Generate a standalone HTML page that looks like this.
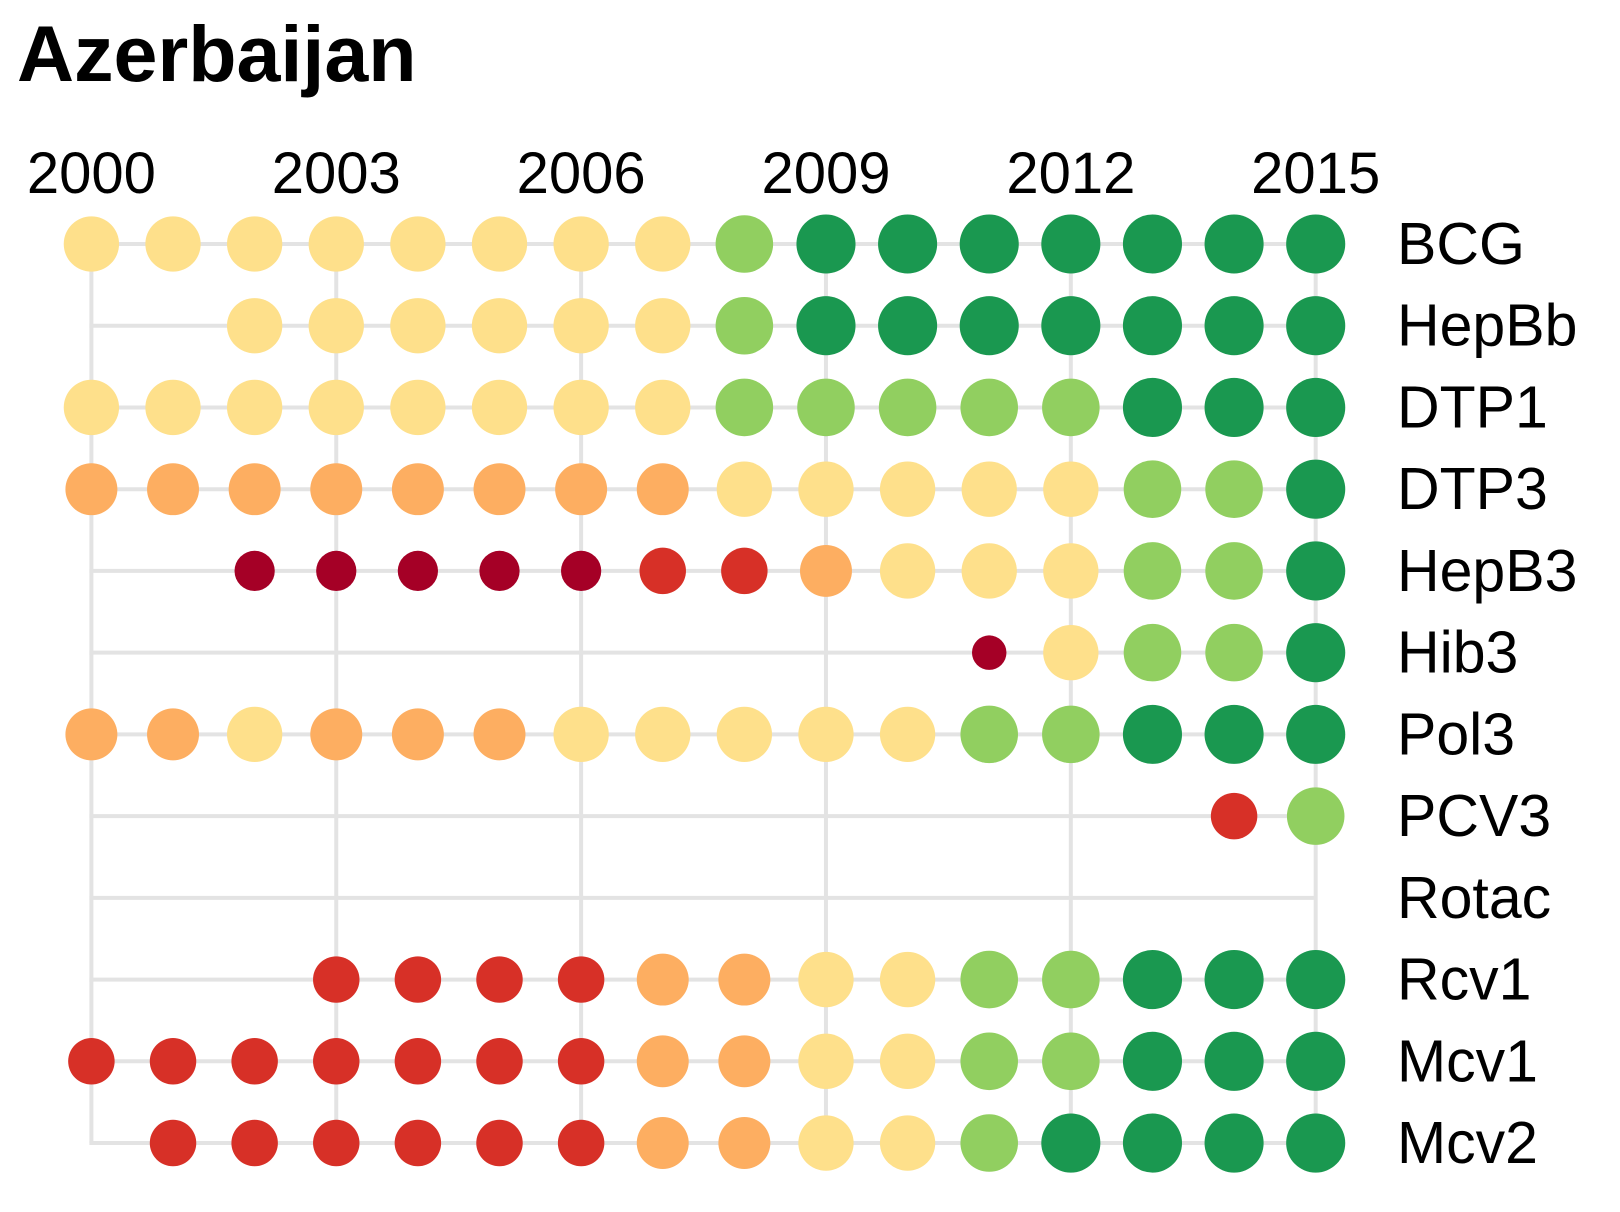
<!DOCTYPE html>
<html><head><meta charset="utf-8">
<style>
html,body{margin:0;padding:0;background:#fff;}
svg{display:block;font-family:"Liberation Sans",Arial,sans-serif;}
</style></head>
<body>
<svg id="chart" width="1620" height="1212" viewBox="0 0 1620 1212" xmlns="http://www.w3.org/2000/svg">
<text x="17" y="81" font-size="79" font-weight="bold" fill="#000">Azerbaijan</text>
<g id="grid"></g>
<g id="ticks"></g>
<g id="dots"></g>
<g id="labels"></g>
</svg>
<script>
const years = [2000,2001,2002,2003,2004,2005,2006,2007,2008,2009,2010,2011,2012,2013,2014,2015];
const tickYears = [2000,2003,2006,2009,2012,2015];
const vaccines = ["BCG","HepBb","DTP1","DTP3","HepB3","Hib3","Pol3","PCV3","Rotac","Rcv1","Mcv1","Mcv2"];
const _ = null;
const BCG   = [85,85,85,85,85,85,85,85,92,97,97,97,97,97,97,97];
const HepBb = [_,_,85,85,85,85,85,85,92,97,97,97,97,97,97,97];
const DTP1  = [85,85,85,85,85,85,85,85,92,92,92,92,92,97,97,97];
const DTP3  = [75,75,75,75,75,75,75,75,85,85,85,85,85,92,92,97];
const HepB3 = [_,_,45,45,45,45,45,60,60,75,85,85,85,92,92,97];
const Hib3  = [_,_,_,_,_,_,_,_,_,_,_,33,85,92,92,97];
const Pol3  = [75,75,85,75,75,75,85,85,85,85,85,92,92,97,97,97];
const PCV3  = [_,_,_,_,_,_,_,_,_,_,_,_,_,_,60,92];
const Rotac = [_,_,_,_,_,_,_,_,_,_,_,_,_,_,_,_];
const Rcv1  = [_,_,_,60,60,60,60,75,75,85,85,92,92,97,97,97];
const Mcv1  = [60,60,60,60,60,60,60,75,75,85,85,92,92,97,97,97];
const Mcv2  = [_,60,60,60,60,60,60,75,75,85,85,92,97,97,97,97];
const series = [BCG,HepBb,DTP1,DTP3,HepB3,Hib3,Pol3,PCV3,Rotac,Rcv1,Mcv1,Mcv2];

const NS = "http://www.w3.org/2000/svg";
const x = y => 91.4 + (y - 2000) * 81.62;
const yPos = i => 244 + i * 81.73;
const rad = v => 3 * Math.sqrt(v);
const color = v => v >= 95 ? "#1a9850" : v >= 90 ? "#91cf60" : v >= 80 ? "#fee08b" : v >= 70 ? "#fdae61" : v >= 50 ? "#d73027" : "#a50026";
function mk(tag, attrs, parent){ const e=document.createElementNS(NS,tag); for(const k in attrs) e.setAttribute(k,attrs[k]); parent.appendChild(e); return e; }
const grid=document.getElementById('grid'), ticks=document.getElementById('ticks'), dots=document.getElementById('dots'), labels=document.getElementById('labels');
const x0=x(years[0]), x1=x(years[years.length-1]);
tickYears.forEach(t=>{
  const l=mk('line',{x1:x(t),x2:x(t),y1:yPos(0),y2:yPos(vaccines.length-1),stroke:'#e3e3e3','stroke-width':4},grid);
  
  
  const tx=mk('text',{x:x(t),y:193,'font-size':58,'text-anchor':'middle',fill:'#000'},ticks);
  tx.textContent=t;
  
  
});
vaccines.forEach((name,i)=>{
  const l=mk('line',{x1:x0-2,x2:x1,y1:yPos(i),y2:yPos(i),stroke:'#e3e3e3','stroke-width':4},grid);
  
  
  series[i].forEach((v,j)=>{
    if(v===null) return;
    const c=mk('circle',{cx:x(years[j]),cy:yPos(i),r:rad(v),fill:color(v)},dots);
    
    
  });
  const t=mk('text',{x:1397,y:yPos(i)+20,'font-size':59,fill:'#000'},labels);
  t.textContent=name;
  
  
});
</script>
</body></html>
